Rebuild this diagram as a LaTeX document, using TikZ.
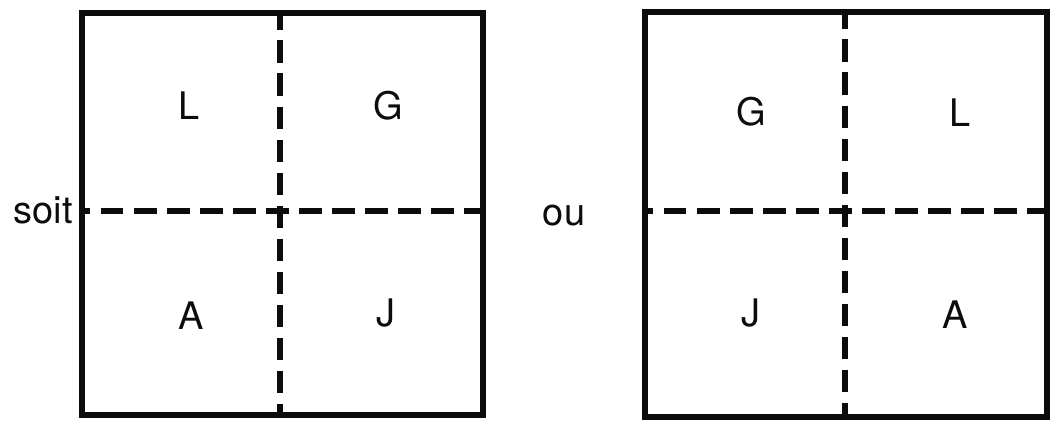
\documentclass[tikz,border=0pt]{standalone}
\usepackage{fontspec}
\setmainfont{TeX Gyre Heros}
\usepackage{xcolor}
\usetikzlibrary{positioning}
\definecolor{inkBlack}{RGB}{12, 12, 12}

\tikzset{
    frame/.style={line width=4pt, draw=inkBlack},
    cut/.style={line width=4.2pt, draw=inkBlack, dash pattern=on 16pt off 7.5pt},
    letter/.style={anchor=base, inner sep=0pt, text=inkBlack, font=\fontsize{27}{32}\selectfont}
}

\begin{document}
\begin{tikzpicture}[x=0.025cm, y=-0.025cm]
                \useasboundingbox (0,0) rectangle (1059,426);

                \coordinate (P1) at (82,13);
                \coordinate (Q1) at (483,415);
                \coordinate (P2) at (645,12);
                \coordinate (Q2) at (1047,417);

                \coordinate (T1) at (280,13);
                \coordinate (B1) at (280,415);
                \coordinate (W1) at (82,211);
                \coordinate (E1) at (483,211);
                \coordinate (T2) at (845,12);
                \coordinate (B2) at (845,417);
                \coordinate (W2) at (645,211);
                \coordinate (E2) at (1047,211);

                \draw[cut, dash phase=4pt] (T1) -- (B1);
                \draw[cut, dash phase=10pt] (W1) -- (E1);
                \draw[cut, dash phase=4pt] (T2) -- (B2);
                \draw[cut, dash phase=10pt] (W2) -- (E2);

                \draw[frame] (P1) rectangle (Q1);
                \draw[frame] (P2) rectangle (Q2);

                \node[letter] (l1) at (189,120) {L};
                \node[letter] (g1) at (388,120) {G};
                \node[letter] (a1) at (191,329) {A};
                \node[letter] (j1) at (386,326) {J};

                \node[letter] (g2) at (751,126) {G};
                \node[letter] (l2) at (960,127) {L};
                \node[letter] (j2) at (751,326) {J};
                \node[letter] (a2) at (955,328) {A};

                \node[letter, anchor=base east] (soit) at (73,224) {soit};
                \node[letter] (ou) at (564,225) {ou};
            \end{tikzpicture}
\end{document}
